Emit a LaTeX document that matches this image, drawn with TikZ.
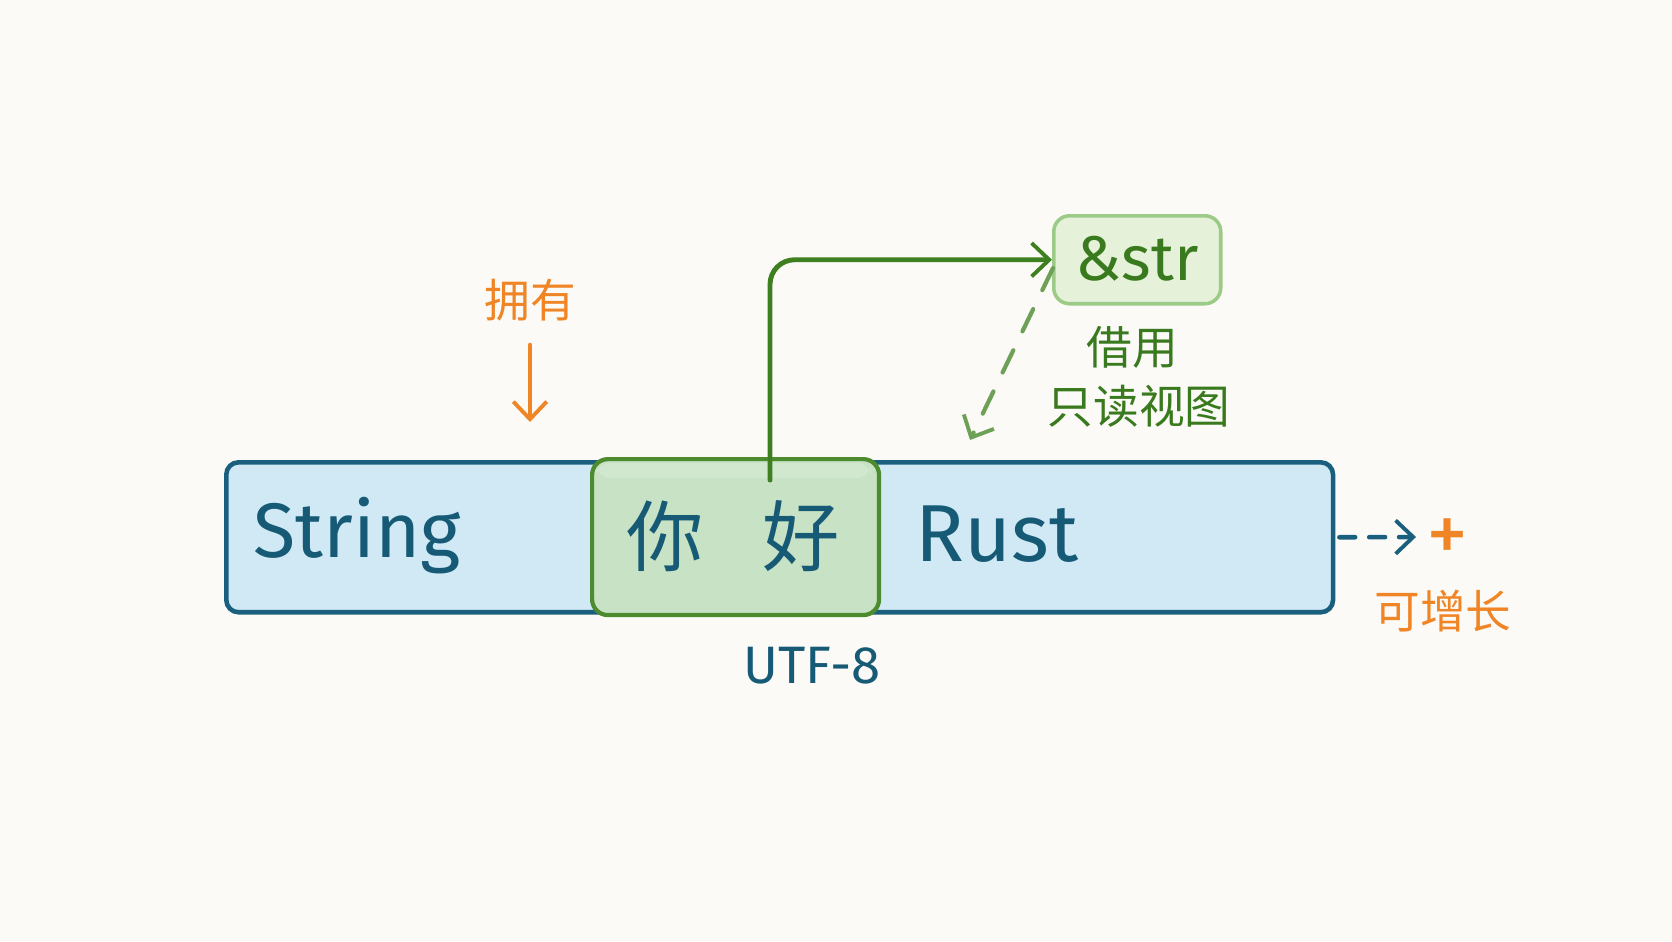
\documentclass[tikz,border=0pt]{standalone}
\usepackage{fontspec}
\setmainfont{Fira Sans}
\newfontfamily\cjk{Noto Sans CJK SC}
\usetikzlibrary{arrows.meta}
\definecolor{bg}{HTML}{FBFAF7}
\definecolor{barfill}{HTML}{D0E9F5}
\definecolor{barline}{HTML}{1A5F7E}
\definecolor{bartext}{HTML}{165A76}
\definecolor{gfill}{HTML}{C7E2C4}
\definecolor{gline}{HTML}{4D8C2E}
\definecolor{garrow}{HTML}{3E801F}
\definecolor{sfill}{HTML}{E6F1D9}
\definecolor{sline}{HTML}{9CCB88}
\definecolor{stext}{HTML}{3A7A1E}
\definecolor{orng}{HTML}{F08526}
\tikzset{
  barbox/.style={draw=barline, fill=barfill, line width=2.6pt, rounded corners=7pt},
  hibox/.style={draw=gline, fill=gfill, line width=2.4pt, rounded corners=9pt},
  refbox/.style={draw=sline, fill=sfill, line width=2pt, rounded corners=9pt},
  bigtxt/.style={text=bartext, font=\fontsize{44}{48}\selectfont},
  cjkbig/.style={text=bartext, font=\cjk\fontsize{44}{48}\selectfont},
  lbl/.style={font=\cjk\fontsize{26}{30}\selectfont},
  barb/.style={-{Straight Barb[length=10pt,width=19pt,line width=2.2pt]}},
}
\begin{document}
\begin{tikzpicture}[x=0.02cm, y=-0.02cm, line cap=round]
\fill[bg] (0,0) rectangle (1672,941);
\useasboundingbox (0,0) rectangle (1672,941);
% main bar
\node[barbox, minimum width=22.14cm, minimum height=3cm, anchor=north west] (bar) at (224,460) {};
\node[bigtxt] (string) at (357,536) {String};
\node[bigtxt, font=\fontsize{46}{50}\selectfont] (rust) at (997,534) {Rust};
% highlighted slice
\node[hibox, minimum width=5.74cm, minimum height=3.12cm, anchor=north west] (slice) at (590,457) {};
\fill[white, opacity=0.18, rounded corners=8pt] (596,463) rectangle (871,478);
\node[cjkbig] (ni) at (665,536) {你};
\node[cjkbig] (hao) at (801,536) {好};
\node[text=bartext, font=\fontsize{30}{32}\selectfont] (utf) at (812,666) {UTF-8};
% &str
\node[refbox, minimum width=3.34cm, minimum height=1.76cm, anchor=north west] (str) at (1052,214) {};
\node[text=stext, font=\fontsize{36}{40}\selectfont] (strt) at (1137,259) {\&str};
\node[lbl, text=stext] (jie) at (1132,347) {借用};
\node[lbl, text=stext] (view) at (1139,406) {只读视图};
\coordinate (src) at (770,480);
\draw[garrow, line width=2.8pt, rounded corners=14pt, barb] (src) |- (str.west);
\coordinate (dstart) at (1053,268);
\coordinate (dend) at (970,440);
\draw[garrow!75, line width=2.4pt, dash pattern=on 14pt off 12pt, barb] (dstart) -- (dend);
% owner
\node[lbl, text=orng] (own) at (530,300) {拥有};
\coordinate (owntip) at (530,422);
\draw[orng, line width=2.6pt, barb] (530,345) -- (owntip);
% growable
\coordinate (growend) at (1416,537);
\draw[barline, line width=2.6pt, dash pattern=on 9pt off 8pt, barb] (bar.east) ++(4,0) -- (growend);
\node[text=orng, font=\fontsize{48}{50}\selectfont] (plus) at (1448,541) {+};
\node[lbl, text=orng] (grow) at (1443,611) {可增长};
\end{tikzpicture}
\end{document}
